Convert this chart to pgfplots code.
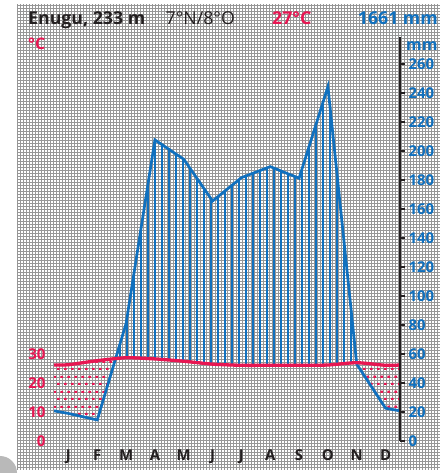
\documentclass[border=0pt]{standalone}
\usepackage{fontspec}
\setmainfont{Open Sans}
\usepackage{pgfplots}
\usepackage{pgfplotstable}
\pgfplotsset{compat=1.18}
\usepgfplotslibrary{fillbetween}
\usetikzlibrary{patterns}
\tikzset{fill between/on layer=main}
\definecolor{cred}{RGB}{232,22,82}
\definecolor{cblue}{RGB}{16,112,190}
\definecolor{gridgray}{RGB}{150,150,150}
\definecolor{axisblack}{RGB}{35,31,32}

\pgfdeclarepatternformonly{finegrid}{\pgfpointorigin}{\pgfpoint{3pt}{3pt}}{\pgfpoint{3pt}{3pt}}{%
  \pgfpathrectangle{\pgfpointorigin}{\pgfpoint{3pt}{0.9pt}}%
  \pgfpathrectangle{\pgfpointorigin}{\pgfpoint{0.9pt}{3pt}}%
  \pgfusepath{fill}}
\pgfdeclarepatternformonly{vhatch}{\pgfpointorigin}{\pgfpoint{7.5pt}{7.5pt}}{\pgfpoint{7.5pt}{7.5pt}}{%
  \pgfpathrectangle{\pgfpointorigin}{\pgfpoint{2.0pt}{7.5pt}}%
  \pgfusepath{fill}}
\pgfdeclarepatternformonly{reddots}{\pgfpointorigin}{\pgfpoint{7.3pt}{14.6pt}}{\pgfpoint{7.3pt}{14.6pt}}{%
  \pgfpathrectangle{\pgfpointorigin}{\pgfpoint{3.0pt}{2.2pt}}%
  \pgfpathrectangle{\pgfpoint{3.65pt}{7.3pt}}{\pgfpoint{3.0pt}{2.2pt}}%
  \pgfusepath{fill}}

\pgfplotstableread{
x    P     T
0    20.8  26.2
0.5  19.0  26.3
1.5  14.5  27.7
2.5  81.0  28.7
3.5  207.6 28.3
4.5  194.3 27.5
5.5  165.5 26.5
6.5  181.6 26.1
7.5  189.2 26.1
8.5  181.2 26.1
9.5  244.4 26.2
10.5 53.0  27.0
11.5 22.6  26.1
12   20.8  26.2
}\climate

\begin{document}
\begin{tikzpicture}
\fill[white] (0,0) rectangle (440bp,473bp);
\fill[pattern=finegrid, pattern color=gridgray] (17bp,3bp) rectangle (440bp,468bp);
\fill[gray!55] (0,0) -- (0,17bp) arc[start angle=90, end angle=0, radius=17bp] -- cycle;

\node[anchor=base west, inner sep=0pt, font=\bfseries\fontsize{17.8}{17.8}\selectfont, text=axisblack] at (28bp,448bp) {Enugu, 233 m};
\node[anchor=base west, inner sep=0pt, font=\fontsize{17.8}{17.8}\selectfont, text=axisblack] at (165.5bp,448bp) {7°N/8°O};
\node[anchor=base west, inner sep=0pt, font=\bfseries\fontsize{17.8}{17.8}\selectfont, text=cred] at (272bp,448bp) {27°C};
\node[anchor=base east, inner sep=0pt, font=\bfseries\fontsize{17.8}{17.8}\selectfont, text=cblue] at (438bp,448bp) {1661 mm};
\node[anchor=base west, inner sep=0pt, font=\bfseries\fontsize{16}{16}\selectfont, text=cred] at (28bp,423bp) {°C};
\node[anchor=base west, inner sep=0pt, font=\bfseries\fontsize{16}{16}\selectfont, text=cblue] at (406bp,422bp) {mm};

\begin{axis}[
  at={(54bp,32bp)}, anchor=south west,
  scale only axis, width=346bp, height=404bp,
  xmin=0, xmax=12, ymin=0, ymax=278.6,
  axis x line*=bottom, axis y line*=left,
  axis line style={-, line width=1.6bp, axisblack},
  tick align=outside,
  major tick length=5bp,
  tick style={line width=1.2bp, axisblack},
  xtick={0,1,...,12},
  x tick label as interval,
  xticklabels={J,F,M,A,M,J,J,A,S,O,N,D},
  xticklabel style={font=\bfseries\fontsize{15}{15}\selectfont, text=axisblack},
  ytick={0,20,40,60},
  yticklabels={0,10,20,30},
  yticklabel style={font=\bfseries\fontsize{15}{15}\selectfont, text=cred},
  clip=true,
]
\addplot[name path=P, draw=none] table[x=x, y=P] {\climate};
\addplot[name path=T, draw=none, smooth, tension=0.4] table[x=x, y expr=2*\thisrow{T}] {\climate};
\addplot fill between[of=P and T, split,
  every segment no 0/.style={pattern=reddots, pattern color=cred},
  every segment no 1/.style={pattern=vhatch, pattern color=cblue},
  every segment no 2/.style={pattern=reddots, pattern color=cred}];
\addplot[cblue, line width=2.7bp] table[x=x, y=P] {\climate};
\addplot[cred, line width=3.3bp, smooth, tension=0.4] table[x=x, y expr=2*\thisrow{T}] {\climate};
\end{axis}

\begin{axis}[
  at={(54bp,32bp)}, anchor=south west,
  scale only axis, width=346bp, height=404bp,
  xmin=0, xmax=12, ymin=0, ymax=278.6,
  axis x line=none, axis y line*=right,
  axis line style={-, line width=1.6bp, axisblack},
  tick align=outside,
  major tick length=5bp,
  tick style={line width=1.2bp, axisblack},
  ytick={0,20,...,260},
  /pgf/number format/assume math mode=true,
  yticklabel style={font=\bfseries\fontsize{15}{15}\selectfont, text=cblue},
]
\addplot[draw=none] coordinates {(0,0)};
\end{axis}
\pgfresetboundingbox
\path[use as bounding box] (0,0) rectangle (440bp,473bp);
\end{tikzpicture}
\end{document}
